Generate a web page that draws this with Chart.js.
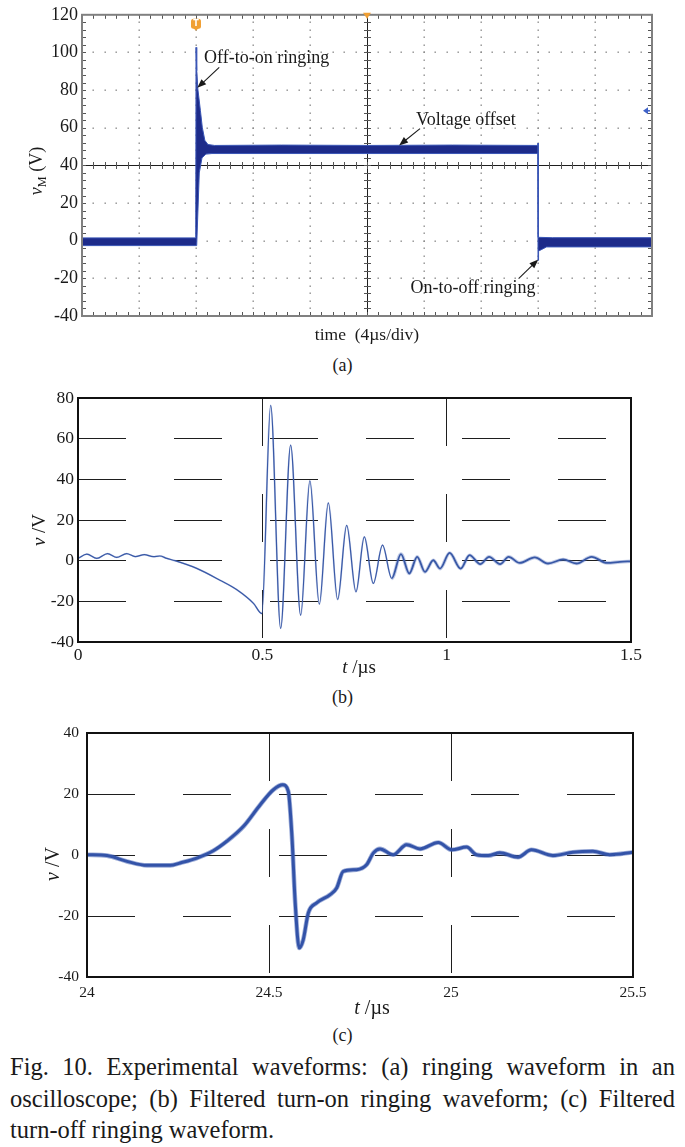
<!DOCTYPE html>
<html>
<head>
<meta charset="utf-8">
<title>Fig. 10 Experimental waveforms</title>
<script src="https://cdn.jsdelivr.net/npm/chart.js@4.4.1/dist/chart.umd.min.js"></script>
<style>
  html, body { margin: 0; padding: 0; background: #fff; }
  #page { position: relative; width: 685px; height: 1147px; overflow: hidden;
          font-family: "Liberation Serif", "Times New Roman", serif; color: #1a1a1a; }
  #page canvas { position: absolute; left: 0; }
  .label { position: absolute; left: 0; width: 685px; text-align: center; font-size: 18px; line-height: 20px; }
  #caption { position: absolute; left: 10px; width: 665px; top: 1051px; margin: 0;
             font-size: 24.5px; line-height: 31.5px; text-align: justify; }
</style>
</head>
<body>
<div id="page">
  <canvas id="chartA" width="685" height="350" style="top:0"></canvas>
  <div class="label" style="top:355px">(a)</div>
  <canvas id="chartB" width="685" height="300" style="top:380px"></canvas>
  <div class="label" style="top:687px">(b)</div>
  <canvas id="chartC" width="685" height="305" style="top:715px"></canvas>
  <div class="label" style="top:1025px">(c)</div>
  <p id="caption">Fig. 10. Experimental waveforms: (a) ringing waveform in an oscilloscope; (b) Filtered turn-on ringing waveform; (c) Filtered turn-off ringing waveform.</p>
</div>

<script>
const FONT = '"Liberation Serif", "Times New Roman", serif';

// (a) oscilloscope trace, time in µs (4 µs/div). The trace is a noisy band,
// so it is kept as its upper and lower edge.
const scopeUpperT = [0, 7.98, 8.0, 8.03, 8.07, 8.13, 8.31, 8.44, 8.62, 8.84, 9.3, 14, 20, 26, 31.98, 32.0, 32.02, 33, 40];
const scopeUpperV = [1.5, 1.5, 102.7, 96, 90.3, 80.6, 69.1, 60.3, 53.3, 51.1, 50.6, 50.8, 50.6, 50.8, 50.6, 51.8, 1.8, 1.6, 1.6];
const scopeLowerT = [0, 8.04, 8.05, 8.23, 8.42, 8.70, 9.12, 20, 31.99, 32.0, 32.04, 32.3, 32.6, 40];
const scopeLowerV = [-2.6, -2.6, -2.4, 36, 44, 46, 46.3, 46.3, 46.3, -10.4, -5.5, -4.5, -3.3, -3.3];
const scopeYTicks = [-40, -20, 0, 20, 40, 60, 80, 100, 120];
const scopeTTicks = [0, 4, 8, 12, 16, 20, 24, 28, 32, 36, 40];
const scopeTrigger = 8;
const scopeLevel = 69;
const scopeNotes = [
  { text: 'Off-to-on ringing', t: 8.56, v: 94.6, tail: [9.63, 92.1], head: [8.09, 81.2] },
  { text: 'Voltage offset', t: 23.44, v: 61.2, tail: [23.72, 59.5], head: [22.25, 50.6] },
  { text: 'On-to-off ringing', t: 23.05, v: -27.7, tail: [30.64, -20.1], head: [32.02, -10.0] },
];

// (b) filtered turn-on ringing
const onT = [0, 0.024, 0.051, 0.080, 0.105, 0.132, 0.155, 0.180, 0.204, 0.222, 0.241, 0.263,
  0.322, 0.385, 0.43, 0.476, 0.4985, 0.5226, 0.5497, 0.5768, 0.604, 0.629, 0.6546, 0.679,
  0.7043, 0.7288, 0.754, 0.7766, 0.801, 0.826, 0.851, 0.876, 0.8986, 0.920, 0.941, 0.9637,
  0.982, 1.008, 1.038, 1.062, 1.091, 1.115, 1.145, 1.168, 1.198, 1.239, 1.275, 1.316, 1.352,
  1.393, 1.435, 1.470, 1.5];
const onV = [1.1, 3.2, 1.1, 3.5, 1.6, 3.5, 2.0, 3.0, 2.0, 2.3, 1.1, 0,
  -3.8, -9.6, -14.2, -21, -26, 76.4, -33.3, 56.8, -26.8, 39.2, -21.4, 28.4,
  -19.1, 17.4, -15.3, 11.7, -11.2, 7.6, -8.7, 3.2, -6.3, 1.9, -5.5, 0.2,
  -3.9, 3.8, -3.9, 2.7, -1.7, 1.9, -1.7, 1.9, -1.1, 1.6, -1.4, 0.6, -1.4,
  1.9, -1.1, -0.6, -0.3];
const onYTicks = [-40, -20, 0, 20, 40, 60, 80];
const onTTicks = [0, 0.5, 1, 1.5];

// (c) filtered turn-off ringing
const offT = [24, 24.055, 24.11, 24.165, 24.229, 24.256, 24.302, 24.347, 24.384, 24.43,
  24.476, 24.512, 24.538, 24.553, 24.563, 24.572, 24.583, 24.594, 24.608, 24.631,
  24.668, 24.686, 24.704, 24.741, 24.768, 24.787, 24.805, 24.841, 24.878, 24.915,
  24.965, 25.002, 25.043, 25.07, 25.102, 25.134, 25.184, 25.221, 25.28, 25.335,
  25.39, 25.436, 25.5];
const offV = [0.1, -0.2, -2.1, -3.4, -3.4, -2.6, -1, 1.4, 4.5, 9.4,
  16.5, 21.4, 23, 20.9, 6.1, -15.7, -30.5, -27.8, -19, -15.7,
  -13, -10.8, -5.4, -4.8, -3.2, 0.7, 2, 0.1, 3.4, 2,
  4.1, 1.7, 2.6, 0.1, -0.2, 0.7, -0.7, 1.7, -0.2, 0.9,
  1.2, 0.1, 0.9];
const offYTicks = [-40, -20, 0, 20, 40];
const offTTicks = [24, 24.5, 25, 25.5];

function pairs(xs, ys) {
  return xs.map((x, i) => ({ x, y: ys[i] }));
}

// text made of parts, e.g. italic v + subscript M
function drawRich(ctx, parts, cx, cy, size, rotate) {
  const fontOf = p => `${p.italic ? 'italic ' : ''}${p.sub ? size * 0.68 : size}px ${FONT}`;
  ctx.save();
  ctx.translate(cx, cy);
  if (rotate) ctx.rotate(-Math.PI / 2);
  let w = 0;
  parts.forEach(p => { ctx.font = fontOf(p); w += ctx.measureText(p.text).width; });
  let x = -w / 2;
  ctx.textBaseline = 'alphabetic';
  ctx.fillStyle = '#1a1a1a';
  parts.forEach(p => {
    ctx.font = fontOf(p);
    ctx.fillText(p.text, x, size * 0.33 + (p.sub ? size * 0.22 : 0));
    x += ctx.measureText(p.text).width;
  });
  ctx.restore();
}

function arrow(ctx, x0, y0, x1, y1) {
  const a = Math.atan2(y1 - y0, x1 - x0), L = 9, W = 3.5;
  ctx.beginPath();
  ctx.moveTo(x0, y0);
  ctx.lineTo(x1 - L * 0.7 * Math.cos(a), y1 - L * 0.7 * Math.sin(a));
  ctx.stroke();
  ctx.beginPath();
  ctx.moveTo(x1, y1);
  ctx.lineTo(x1 - L * Math.cos(a) + W * Math.sin(a), y1 - L * Math.sin(a) - W * Math.cos(a));
  ctx.lineTo(x1 - L * Math.cos(a) - W * Math.sin(a), y1 - L * Math.sin(a) + W * Math.cos(a));
  ctx.closePath();
  ctx.fill();
}

// plot box in canvas pixels: y axis width = left, x axis height = canvas height - bottom
function boxLayout(box, w, h) {
  return {
    padding: { top: box.top, right: w - box.right, left: 0, bottom: 0 },
    yFit: s => { s.width = box.left; },
    xFit: s => { s.height = h - box.bottom; },
  };
}

// ---------- (a) oscilloscope ----------
const scopeGrid = {
  id: 'scopeGrid',
  beforeDatasetsDraw(chart) {
    const { ctx, chartArea: a, scales: { x, y } } = chart;
    const t0 = scopeTTicks[0], tStep = scopeTTicks[1] - scopeTTicks[0];
    const v0 = scopeYTicks[0], vStep = scopeYTicks[1] - scopeYTicks[0];
    const nx = (scopeTTicks.length - 1) * 5, ny = (scopeYTicks.length - 1) * 5;
    const cx = nx / 2, cy = ny / 2;
    const px = i => x.getPixelForValue(t0 + i * tStep / 5);
    const py = j => y.getPixelForValue(v0 + j * vStep / 5);
    ctx.save();
    ctx.fillStyle = '#8a8a8a';
    for (let i = 5; i < nx; i += 5) {
      if (i === cx) continue;
      for (let j = 0; j <= ny; j++) ctx.fillRect(Math.round(px(i)) - 0.5, Math.round(py(j)) - 0.5, 1.4, 1.4);
    }
    for (let j = 5; j < ny; j += 5) {
      if (j === cy) continue;
      for (let i = 0; i <= nx; i++) ctx.fillRect(Math.round(px(i)) - 0.5, Math.round(py(j)) - 0.5, 1.4, 1.4);
    }
    // centre cross with minor ticks
    ctx.strokeStyle = '#1e1e1e';
    ctx.lineWidth = 1;
    ctx.beginPath();
    ctx.moveTo(a.left, Math.round(py(cy)) + 0.5); ctx.lineTo(a.right, Math.round(py(cy)) + 0.5);
    ctx.moveTo(Math.round(px(cx)) + 0.5, a.top); ctx.lineTo(Math.round(px(cx)) + 0.5, a.bottom);
    ctx.stroke();
    ctx.strokeStyle = '#555';
    ctx.beginPath();
    for (let i = 1; i < nx; i++) {
      const X = Math.round(px(i)) + 0.5, Y = Math.round(py(cy));
      ctx.moveTo(X, Y - 3); ctx.lineTo(X, Y + 4);
      ctx.moveTo(X, a.top); ctx.lineTo(X, a.top + 4);
      ctx.moveTo(X, a.bottom); ctx.lineTo(X, a.bottom - 4);
    }
    for (let j = 1; j < ny; j++) {
      const Y = Math.round(py(j)) + 0.5, X = Math.round(px(cx));
      ctx.moveTo(X - 3, Y); ctx.lineTo(X + 4, Y);
      ctx.moveTo(a.left, Y); ctx.lineTo(a.left + 4, Y);
      ctx.moveTo(a.right, Y); ctx.lineTo(a.right - 4, Y);
    }
    ctx.stroke();
    ctx.restore();
  },
  afterDatasetsDraw(chart) {
    const { ctx, chartArea: a, scales: { x, y } } = chart;
    ctx.save();
    ctx.strokeStyle = '#808080';
    ctx.lineWidth = 2;
    ctx.strokeRect(a.left, a.top, a.right - a.left, a.bottom - a.top);

    // trigger pin
    const tx = x.getPixelForValue(scopeTrigger);
    ctx.fillStyle = '#f0a035';
    ctx.beginPath();
    ctx.roundRect(tx - 5, a.top + 4, 10, 10, 2.5);
    ctx.fill();
    ctx.beginPath();
    ctx.moveTo(tx - 3, a.top + 13); ctx.lineTo(tx + 3, a.top + 13); ctx.lineTo(tx, a.top + 16);
    ctx.fill();
    ctx.fillStyle = '#fff';
    ctx.font = 'bold 8px "DejaVu Sans", sans-serif';
    ctx.textAlign = 'center';
    ctx.textBaseline = 'middle';
    ctx.fillText('T', tx, a.top + 9.5);

    // horizontal position marker
    const mx = x.getPixelForValue((scopeTTicks[0] + scopeTTicks[scopeTTicks.length - 1]) / 2);
    ctx.fillStyle = '#f0a035';
    ctx.beginPath();
    ctx.moveTo(mx - 4, a.top - 2); ctx.lineTo(mx + 4, a.top - 2); ctx.lineTo(mx, a.top + 4);
    ctx.fill();

    // level marker on the right
    const ly = y.getPixelForValue(scopeLevel);
    ctx.fillStyle = '#3f62c8';
    ctx.strokeStyle = '#3f62c8';
    ctx.lineWidth = 1.5;
    ctx.beginPath();
    ctx.moveTo(a.right - 9, ly); ctx.lineTo(a.right - 4, ly - 3.5); ctx.lineTo(a.right - 4, ly + 3.5);
    ctx.fill();
    ctx.beginPath();
    ctx.moveTo(a.right - 5, ly); ctx.lineTo(a.right - 2, ly);
    ctx.stroke();

    // annotations
    ctx.fillStyle = '#1a1a1a';
    ctx.strokeStyle = '#1a1a1a';
    ctx.lineWidth = 1.1;
    ctx.textAlign = 'left';
    ctx.textBaseline = 'alphabetic';
    ctx.font = `18px ${FONT}`;
    scopeNotes.forEach(n => {
      ctx.fillText(n.text, x.getPixelForValue(n.t), y.getPixelForValue(n.v));
      arrow(ctx, x.getPixelForValue(n.tail[0]), y.getPixelForValue(n.tail[1]),
            x.getPixelForValue(n.head[0]), y.getPixelForValue(n.head[1]));
    });

    // axis titles
    drawRich(ctx, [{ text: 'v', italic: true }, { text: 'M', sub: true }, { text: ' (V)' }], 36, 171, 18, true);
    drawRich(ctx, [{ text: 'time  (4µs/div)' }], (a.left + a.right) / 2, a.bottom + 18, 17.5, false);
    ctx.restore();
  },
};

const boxA = { left: 82, top: 14, right: 652, bottom: 316 };
const layA = boxLayout(boxA, 685, 350);
new Chart(document.getElementById('chartA'), {
  type: 'line',
  data: {
    datasets: [
      { data: pairs(scopeUpperT, scopeUpperV), borderColor: '#3a56b6', borderWidth: 1, fill: false },
      { data: pairs(scopeLowerT, scopeLowerV), borderColor: '#3a56b6', borderWidth: 1,
        backgroundColor: '#1d2b8a', fill: '-1' },
    ],
  },
  options: {
    responsive: false, animation: false, devicePixelRatio: 1, events: [],
    layout: { padding: layA.padding },
    elements: { point: { radius: 0 }, line: { tension: 0 } },
    plugins: { legend: { display: false }, tooltip: { enabled: false } },
    scales: {
      x: {
        type: 'linear', min: scopeTTicks[0], max: scopeTTicks[scopeTTicks.length - 1],
        ticks: { display: false, stepSize: scopeTTicks[1] - scopeTTicks[0] },
        grid: { display: false }, border: { display: false }, afterFit: layA.xFit,
      },
      y: {
        min: scopeYTicks[0], max: scopeYTicks[scopeYTicks.length - 1],
        ticks: { stepSize: scopeYTicks[1] - scopeYTicks[0], color: '#1a1a1a', padding: 4,
                 font: { family: FONT, size: 18 } },
        grid: { display: false, drawTicks: false }, border: { display: false }, afterFit: layA.yFit,
      },
    },
  },
  plugins: [scopeGrid],
});

// ---------- (b) and (c) ----------
function framePlugin(yTitlePos, xTitlePos, titleSize) {
  return {
    id: 'frame',
    afterDatasetsDraw(chart) {
      const { ctx, chartArea: a } = chart;
      ctx.save();
      ctx.strokeStyle = '#111';
      ctx.lineWidth = 2;
      ctx.strokeRect(a.left, a.top, a.right - a.left, a.bottom - a.top);
      drawRich(ctx, [{ text: 'v', italic: true }, { text: ' /V' }], yTitlePos[0], yTitlePos[1], titleSize, true);
      drawRich(ctx, [{ text: 't', italic: true }, { text: ' /µs' }], xTitlePos[0], xTitlePos[1], titleSize, false);
      ctx.restore();
    },
  };
}

function filteredChart(id, box, h, ts, vs, tTicks, yTicks, opts) {
  const lay = boxLayout(box, 685, h);
  const edge = (ticks) => (c) => (c.tick.value === ticks[0] || c.tick.value === ticks[ticks.length - 1])
    ? 'rgba(0,0,0,0)' : '#1e1e1e';
  const pts = pairs(ts, vs);
  return new Chart(document.getElementById(id), {
    type: 'line',
    data: {
      datasets: [
        { // trace core
          data: pts, borderColor: opts.color, borderWidth: opts.width,
          cubicInterpolationMode: 'monotone', fill: false, segment: opts.segment || {},
        },
        { // soft noise halo under the trace
          data: pts, borderColor: opts.halo, borderWidth: opts.haloWidth,
          cubicInterpolationMode: 'monotone', fill: false, segment: opts.haloSegment || {},
        },
      ],
    },
    options: {
      responsive: false, animation: false, devicePixelRatio: 1, events: [],
      layout: { padding: lay.padding },
      elements: { point: { radius: 0 } },
      plugins: { legend: { display: false }, tooltip: { enabled: false } },
      scales: {
        x: {
          type: 'linear', min: tTicks[0], max: tTicks[tTicks.length - 1],
          ticks: { stepSize: tTicks[1] - tTicks[0], color: '#1a1a1a', padding: opts.xPad,
                   font: { family: FONT, size: opts.tickSize }, maxRotation: 0,
                   callback: v => String(Number(v.toFixed(3))) },
          grid: { color: edge(tTicks), lineWidth: 1, drawTicks: false },
          border: { display: false, dash: [48, 48] },
          afterFit: lay.xFit,
        },
        y: {
          min: yTicks[0], max: yTicks[yTicks.length - 1],
          ticks: { stepSize: yTicks[1] - yTicks[0], color: '#1a1a1a', padding: opts.yPad,
                   font: { family: FONT, size: opts.tickSize } },
          grid: { color: edge(yTicks), lineWidth: 1, drawTicks: false },
          border: { display: false, dash: [48, 48] },
          afterFit: lay.yFit,
        },
      },
    },
    plugins: [framePlugin(opts.yTitle, opts.xTitle, opts.titleSize)],
  });
}

filteredChart('chartB', { left: 78, top: 18, right: 631, bottom: 262 }, 300, onT, onV, onTTicks, onYTicks, {
  color: '#3858a6', width: 1.3, tickSize: 17.5, xPad: 3, yPad: 4,
  halo: 'rgba(80,110,185,0.35)', haloWidth: 1.3,
  yTitle: [39, 150], xTitle: [359, 287], titleSize: 19,
  segment: { borderWidth: c => (c.p0.parsed.x >= 0.83 ? 1.8 : 1.2) },
  haloSegment: { borderWidth: c => (c.p0.parsed.x >= 0.83 ? 3.6 : 1.8) },
});

filteredChart('chartC', { left: 87, top: 18, right: 633, bottom: 262 }, 305, offT, offV, offTTicks, offYTicks, {
  color: '#3353a8', width: 3, tickSize: 15.5, xPad: 7, yPad: 8,
  halo: 'rgba(60,92,178,0.5)', haloWidth: 4.6,
  yTitle: [52, 149], xTitle: [372, 292], titleSize: 20,
});
</script>
</body>
</html>
